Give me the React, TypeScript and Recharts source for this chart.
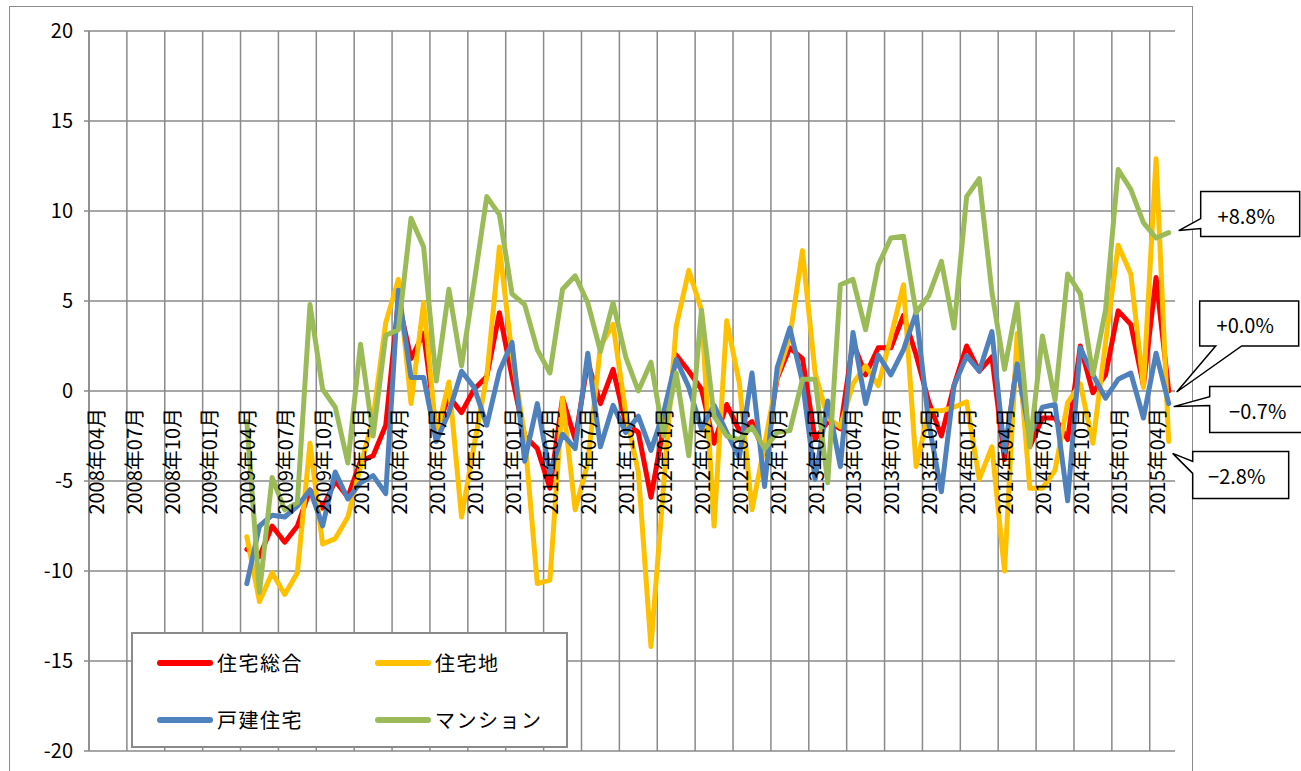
import React from 'react';
import { LineChart, Line, XAxis, YAxis, CartesianGrid, Legend } from 'recharts';

// ---- categories: monthly, 2008年04月 .. 2015年05月 ----
const START_YEAR = 2008;
const START_MONTH = 4;
const MONTH_COUNT = 86;
const MONTHS: string[] = Array.from({ length: MONTH_COUNT }, (_, i) => {
  const m0 = START_MONTH - 1 + i;
  const y = START_YEAR + Math.floor(m0 / 12);
  const m = (m0 % 12) + 1;
  return `${y}年${m < 10 ? '0' + m : m}月`;
});
const TICK_STEP = 3;
const X_TICKS: number[] = MONTHS.map((_, i) => i).filter((i) => i % TICK_STEP === 0);
const Y_TICKS = [-20, -15, -10, -5, 0, 5, 10, 15, 20];

// first data month: 2009年04月 (index 12)
const DATA_START = 12;

// 住宅総合
const TOTAL = [
  -8.8, -9.2, -7.5, -8.4, -7.5, -5.5, -6.5, -5.0, -5.9, -3.9, -3.6, -1.9,
  5.0, 1.8, 3.2, -2.2, -0.3, -1.2, 0.1, 0.8, 4.35, 0.8, -2.5, -3.2,
  -5.4, -0.4, -2.7, 1.6, -0.7, 1.2, -1.8, -2.3, -5.9, -2.0, 2.0, 1.1,
  0.1, -2.9, -0.75, -2.2, -1.7, -3.5, 0.7, 2.4, 1.8, -2.7, -1.7, -2.1,
  2.7, 0.9, 2.4, 2.4, 4.2, 2.0, -0.6, -2.5, 0.3, 2.5, 1.1, 1.9,
  -3.8, 1.7, -3.1, -1.5, -1.5, -2.7, 2.5, -0.1, 0.9, 4.45, 3.7, 0.3,
  6.3, 0.0,
];
// 住宅地
const LAND = [
  -8.1, -11.7, -10.1, -11.3, -10.1, -2.9, -8.5, -8.2, -7.0, -4.2, -1.5, 3.8,
  6.2, -0.7, 4.9, -2.5, 0.5, -7.0, -3.0, 0.8, 8.0, 2.0, -2.5, -10.7,
  -10.5, -0.4, -6.6, -4.0, 2.5, 3.7, -1.2, -4.5, -14.2, -5.3, 3.6, 6.7,
  4.5, -7.5, 3.9, 0.45, -6.6, -3.0, 0.8, 3.0, 7.8, 1.0, -1.5, -2.0,
  0.4, 1.4, 0.3, 3.0, 5.9, -4.2, -1.1, -1.1, -0.9, -0.6, -4.9, -3.1,
  -10.0, 3.2, -5.4, -5.4, -4.4, -0.65, 0.4, -2.9, 2.7, 8.1, 6.5, 0.2,
  12.9, -2.8,
];
// 戸建住宅
const HOUSE = [
  -10.7, -7.5, -6.9, -7.0, -6.4, -5.5, -7.5, -4.5, -6.0, -5.1, -4.7, -5.7,
  5.6, 0.75, 0.75, -2.8, -1.2, 1.1, 0.2, -1.9, 1.1, 2.7, -3.9, -0.7,
  -4.6, -2.4, -3.2, 2.1, -3.1, -0.8, -2.3, -1.4, -3.3, -1.2, 1.75, 0.2,
  -2.1, -0.8, -2.3, -3.7, 1.0, -5.3, 1.3, 3.5, 0.5, -4.9, -0.55, -4.2,
  3.25, -0.7, 2.0, 0.9, 2.3, 4.35, -1.8, -5.6, 0.3, 1.95, 1.1, 3.3,
  -3.4, 1.5, -2.5, -0.9, -0.75, -6.1, 2.4, 0.9, -0.4, 0.65, 1.0, -1.5,
  2.1, -0.7,
];
// マンション
const CONDO = [
  -1.7, -11.2, -4.8, -6.6, -6.2, 4.8, 0.1, -0.9, -4.0, 2.6, -2.5, 3.1,
  3.4, 9.6, 8.0, 0.55, 5.65, 1.4, 6.0, 10.8, 9.8, 5.4, 4.8, 2.3,
  1.0, 5.65, 6.4, 4.9, 2.2, 4.9, 1.9, 0.0, 1.6, -2.5, 1.0, -3.6,
  4.5, -1.4, -2.5, -2.7, -2.0, -3.2, -2.3, -2.2, 0.65, 0.65, -5.1, 5.9,
  6.2, 3.4, 7.0, 8.5, 8.6, 4.35, 5.3, 7.2, 3.5, 10.8, 11.8, 5.5,
  1.2, 4.9, -3.1, 3.05, -0.5, 6.5, 5.4, 0.9, 4.5, 12.3, 11.2, 9.35,
  8.5, 8.8,
];

const SERIES = [
  { key: 'total', name: '住宅総合', color: '#FF0000', values: TOTAL },
  { key: 'land', name: '住宅地', color: '#FFC000', values: LAND },
  { key: 'house', name: '戸建住宅', color: '#4F81BD', values: HOUSE },
  { key: 'condo', name: 'マンション', color: '#9BBB59', values: CONDO },
];

const data = TOTAL.map((_, j) => {
  const row: Record<string, number | string> = { idx: DATA_START + j, label: MONTHS[DATA_START + j] };
  SERIES.forEach((s) => {
    row[s.key] = s.values[j];
  });
  return row;
});

// ---- layout ----
const W = 1301;
const H = 771;
const PLOT_LEFT = 89;
const PLOT_RIGHT = 1175;
const PLOT_TOP = 31;
const PLOT_BOTTOM = 751;
const FONT = "'Noto Sans CJK JP', 'Noto Sans', sans-serif";
const GRID = '#8a8a8a';

const zeroY = PLOT_TOP + ((20 - 0) / 40) * (PLOT_BOTTOM - PLOT_TOP);
const LABEL_Y = zeroY + 17;

const renderXTick = (props: any) => {
  const { x, payload, index } = props;
  return (
    <text
      key={`xt-${index}`}
      x={x}
      y={LABEL_Y}
      transform={`rotate(-90, ${x}, ${LABEL_Y})`}
      textAnchor="end"
      dominantBaseline="central"
      fontSize={20}
      fontFamily={FONT}
      fill="#000"
    >
      {MONTHS[payload.value]}
    </text>
  );
};

// callout geometry per series (relative to last point)
type CalloutCfg = {
  box: [number, number, number, number];
  tail: Array<[number, number]>;
};

const fmt = (v: number) => (v >= 0 ? '+' : '−') + Math.abs(v).toFixed(1) + '%';

const CALLOUTS: Record<string, CalloutCfg> = {
  condo: {
    box: [32, -41, 131, 4],
    tail: [[32, -41], [131, -41], [131, 4], [32, 4], [32, -4], [10, -2], [32, -14]],
  },
  total: {
    box: [31, -90, 130, -45],
    tail: [[31, -90], [130, -90], [130, -45], [73, -45], [8, 1], [47, -45], [31, -45]],
  },
  house: {
    box: [41, -17, 145, 29],
    tail: [[41, -17], [145, -17], [145, 29], [41, 29], [41, 2], [5, 3], [41, -7]],
  },
  land: {
    box: [24, 10, 120, 57],
    tail: [[24, 10], [120, 10], [120, 57], [24, 57], [24, 32], [4, 12], [24, 20]],
  },
};

const makeCallout = (key: string, lastIndex: number) => (p: any) => {
  const { x, y, value, index } = p;
  if (index !== lastIndex || x == null || y == null) return <g key={`c-${key}-${index}`} />;
  const cfg = CALLOUTS[key];
  const d = cfg.tail.map(([dx, dy], i) => `${i === 0 ? 'M' : 'L'}${x + dx},${y + dy}`).join(' ') + ' Z';
  const [l, t, r, b] = cfg.box;
  return (
    <g key={`c-${key}-${index}`}>
      <path d={d} fill="#fff" stroke="#000" strokeWidth={1.5} />
      <text
        x={x + (l + r) / 2 - 4}
        y={y + (t + b) / 2 + 1}
        textAnchor="middle"
        dominantBaseline="central"
        fontSize={20}
        fontFamily={FONT}
        fill="#000"
      >
        {fmt(Number(value))}
      </text>
    </g>
  );
};

const LegendBox = (props: any) => {
  const payload: any[] = props.payload || [];
  const ordered = SERIES.map((s) => {
    const found = payload.find((e) => e.dataKey === s.key || e.value === s.name);
    return { value: found ? found.value : s.name, color: found ? found.color : s.color };
  });
  const cols = [26, 244];
  const rows = [29, 86];
  return (
    <div
      style={{
        position: 'relative',
        width: 437,
        height: 116,
        boxSizing: 'border-box',
        border: '2px solid #8a8a8a',
        background: '#fff',
        fontFamily: FONT,
      }}
    >
      {ordered.map((e, i) => {
        const cx = cols[i % 2];
        const cy = rows[Math.floor(i / 2)];
        return (
          <div key={i} style={{ position: 'absolute', left: cx - 2, top: cy - 14, height: 28, display: 'flex', alignItems: 'center' }}>
            <div style={{ width: 56, height: 6, borderRadius: 3, background: e.color }} />
            <span style={{ marginLeft: 4, fontSize: 20, letterSpacing: 1.5, color: '#000', lineHeight: '28px' }}>{e.value}</span>
          </div>
        );
      })}
    </div>
  );
};

export default function App() {
  const lastIndex = data.length - 1;
  return (
    <div style={{ position: 'absolute', left: 0, top: 0, width: W, height: H, overflow: 'hidden', background: '#fff' }}>
      <div
        style={{
          position: 'absolute',
          left: 9,
          top: 6,
          width: 1184,
          height: 800,
          boxSizing: 'border-box',
          border: '1.5px solid #8c8c8c',
        }}
      />
      <div style={{ position: 'absolute', left: 0, top: 0 }}>
        <LineChart
          width={W}
          height={H}
          data={data}
          margin={{ top: PLOT_TOP, right: W - PLOT_RIGHT, bottom: H - PLOT_BOTTOM - 2, left: 0 }}
        >
          <CartesianGrid
            stroke={GRID}
            strokeWidth={1.5}
            horizontal
            vertical
            verticalCoordinatesGenerator={(args: any) => {
              const off = args && args.offset ? args.offset : { left: PLOT_LEFT, width: PLOT_RIGHT - PLOT_LEFT };
              const n = Math.floor(MONTH_COUNT / TICK_STEP);
              return Array.from({ length: n + 1 }, (_, k) => off.left + (k * TICK_STEP * off.width) / MONTH_COUNT);
            }}
          />
          <XAxis
            dataKey="idx"
            type="number"
            domain={[-0.5, MONTH_COUNT - 0.5]}
            ticks={X_TICKS}
            interval={0}
            tick={renderXTick}
            axisLine={false}
            tickLine={false}
            height={2}
          />
          <YAxis
            type="number"
            domain={[-20, 20]}
            ticks={Y_TICKS}
            interval={0}
            width={PLOT_LEFT}
            tickSize={5}
            tickMargin={11}
            axisLine={{ stroke: GRID, strokeWidth: 1.5 }}
            tickLine={{ stroke: GRID, strokeWidth: 1.5 }}
            tick={{ fill: '#000', fontSize: 20, fontFamily: FONT }}
          />
          <Legend
            layout="horizontal"
            verticalAlign="middle"
            align="center"
            wrapperStyle={{ left: 131, top: 632, width: 437, height: 116 }}
            content={<LegendBox />}
          />
          {SERIES.map((s) => (
            <Line
              key={s.key}
              type="linear"
              dataKey={s.key}
              name={s.name}
              stroke={s.color}
              strokeWidth={5}
              strokeLinejoin="round"
              strokeLinecap="round"
              dot={false}
              activeDot={false}
              isAnimationActive={false}
              label={makeCallout(s.key, lastIndex)}
            />
          ))}
        </LineChart>
      </div>
    </div>
  );
}
